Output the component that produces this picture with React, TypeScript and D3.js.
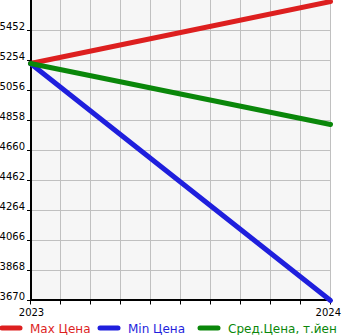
import React from "react";
import * as d3 from "d3";

const years = ["2023", "2024"];
const maxPrice = [5234, 5643];
const minPrice = [5234, 3670];
const avgPrice = [5234, 4832];
const yTicks = [3670, 3868, 4066, 4264, 4462, 4660, 4858, 5056, 5254, 5452];
const seriesNames = ["Max Цена", "Min Цена", "Сред.Цена, т.йен"];
const seriesColors = ["#dd1f1f", "#1f1fdd", "#0a870a"];

const W = 345;
const H = 335;

export default function App() {
  const x = d3.scaleLinear().domain([0, years.length - 1]).range([30.5, 330.5]);
  const y = d3.scaleLinear().domain([3670, 5650]).range([300.5, 0.5]);
  const xGrid = d3.range(0, 1.0001, 0.1).map((t) => t * (years.length - 1));
  const series = [maxPrice, minPrice, avgPrice];
  const line = d3
    .line<number>()
    .x((_, i) => x(i))
    .y((d) => y(d));

  const legendX = [0, 98, 198];

  return (
    <svg
      width={W}
      height={H}
      style={{ position: "absolute", left: 0, top: 0, fontFamily: "DejaVu Sans" }}
    >
      <rect x={31} y={0} width={300} height={300} fill="#f6f6f6" />
      {xGrid.map((g, i) => (
        <g key={"vx" + i}>
          <line x1={x(g)} x2={x(g)} y1={0} y2={300} stroke="#c0c0c0" strokeWidth={1} />
          <line x1={x(g)} x2={x(g)} y1={300} y2={304.5} stroke="#000" strokeWidth={1} />
        </g>
      ))}
      {yTicks.map((t) => (
        <g key={"hy" + t}>
          <line x1={31} x2={331} y1={y(t)} y2={y(t)} stroke="#c0c0c0" strokeWidth={1} />
          <line x1={27} x2={31} y1={y(t)} y2={y(t)} stroke="#000" strokeWidth={1} />
          <text x={25} y={y(t) - 0.5} fontSize={10} textAnchor="end" fill="#000">
            {t}
          </text>
        </g>
      ))}
      <line x1={31} x2={31} y1={0} y2={301} stroke="#000" strokeWidth={2} />
      <line x1={30} x2={332} y1={300} y2={300} stroke="#000" strokeWidth={2} />
      {years.map((yr, i) => (
        <text
          key={yr}
          x={i === years.length - 1 ? 341 : x(i) + 1}
          y={316}
          fontSize={10}
          textAnchor={i === years.length - 1 ? "end" : "middle"}
          fill="#000"
        >
          {yr}
        </text>
      ))}
      {series.map((s, i) => (
        <path
          key={"s" + i}
          d={line(s) || ""}
          fill="none"
          stroke={seriesColors[i]}
          strokeWidth={5}
          strokeLinecap="round"
        />
      ))}
      {seriesNames.map((n, i) => (
        <g key={"lg" + i}>
          <line
            x1={legendX[i] + 2}
            x2={legendX[i] + 20}
            y1={328}
            y2={328}
            stroke={seriesColors[i]}
            strokeWidth={5}
            strokeLinecap="round"
          />
          <text x={legendX[i] + 30} y={332.5} fontSize={12} fill={seriesColors[i]}>
            {n}
          </text>
        </g>
      ))}
    </svg>
  );
}
